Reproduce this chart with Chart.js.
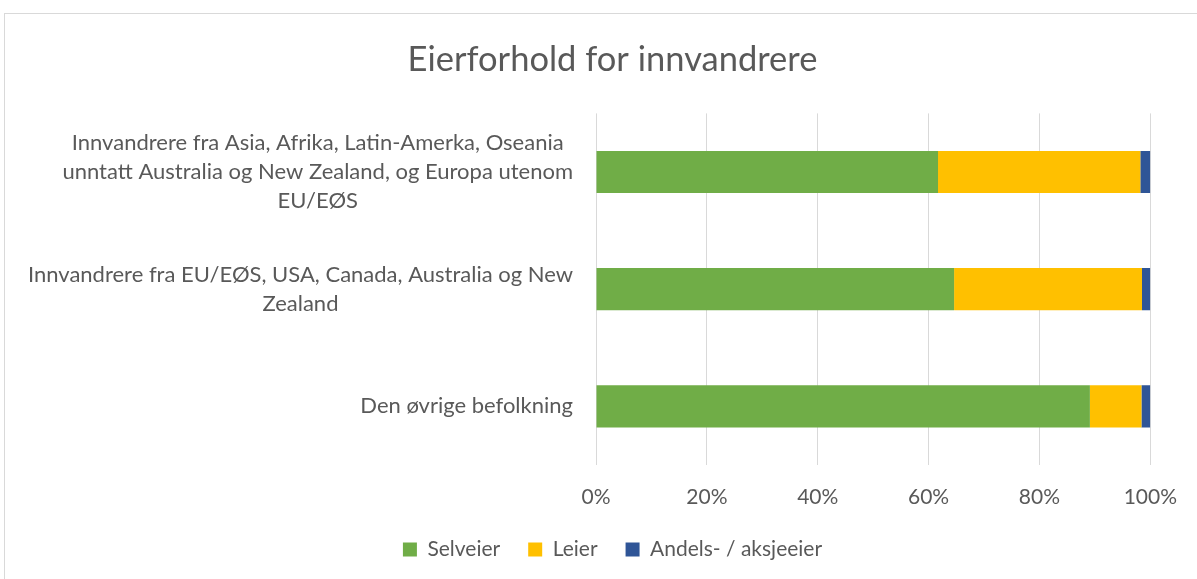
<!DOCTYPE html>
<html lang="no">
<head>
<meta charset="utf-8">
<title>Eierforhold for innvandrere</title>
<script src="https://cdn.jsdelivr.net/npm/chart.js@4"></script>
<style>
  html, body { margin: 0; padding: 0; background: #fff; }
  #wrap { width: 1197px; height: 579px; position: relative; }
</style>
</head>
<body>
<div id="wrap"><canvas id="myChart" width="1197" height="579"></canvas></div>
<script>
// kategorier (hver linje i etiketten som eget element)
const categories = [
    ["Innvandrere fra Asia, Afrika, Latin-Amerka, Oseania", "unntatt Australia og New Zealand, og Europa utenom", "EU/EØS"],
    ["Innvandrere fra EU/EØS, USA, Canada, Australia og New", "Zealand"],
    ["Den øvrige befolkning"]
];
const seriesNames = ["Selveier", "Leier", "Andels- / aksjeeier"];
const selveier = [61.7, 64.6, 89.1];
const leier = [36.5, 33.9, 9.3];
const andeler = [1.8, 1.5, 1.6];
const xTicks = [0, 20, 40, 60, 80, 100];

const FONT = "Lato, 'Noto Sans', sans-serif";
const TEXT = "#595959";

// ramme rundt hele diagrammet
const frame = {
    id: "frame",
    beforeDraw(chart) {
        const c = chart.ctx;
        c.save();
        c.strokeStyle = "#d9d9d9";
        c.lineWidth = 1;
        c.strokeRect(4.5, 13.5, 1300, 700);
        c.restore();
    }
};

// kategorietiketter: linjene sentreres mot hverandre, blokken høyrejusteres
const catLabels = {
    id: "catLabels",
    afterDraw(chart) {
        const c = chart.ctx;
        const yScale = chart.scales.y;
        const right = chart.chartArea.left - 23;
        const lh = 29;
        c.save();
        c.font = "22px " + FONT;
        c.fillStyle = TEXT;
        c.textAlign = "center";
        c.textBaseline = "middle";
        categories.forEach((lines, i) => {
            const yc = yScale.getPixelForTick(i);
            const w = Math.max(...lines.map(l => c.measureText(l).width));
            const xc = right - w / 2;
            lines.forEach((l, j) => {
                c.fillText(l, xc, yc + (j - (lines.length - 1) / 2) * lh);
            });
        });
        c.restore();
    }
};

new Chart(document.getElementById("myChart"), {
    type: "bar",
    data: {
        labels: categories.map(l => l.join(" ")),
        datasets: [
            { label: seriesNames[0], data: selveier, backgroundColor: "#70AD47" },
            { label: seriesNames[1], data: leier, backgroundColor: "#FFC000" },
            { label: seriesNames[2], data: andeler, backgroundColor: "#2F5597" }
        ]
    },
    options: {
        indexAxis: "y",
        responsive: false,
        animation: false,
        devicePixelRatio: 1,
        datasets: {
            bar: { categoryPercentage: 0.72, barPercentage: 0.5 }
        },
        layout: { padding: { top: 39, left: 71, right: 43, bottom: 9 } },
        scales: {
            x: {
                stacked: true,
                min: 0,
                max: 100,
                afterBuildTicks(scale) {
                    scale.ticks = xTicks.map(v => ({ value: v }));
                },
                afterFit(scale) { scale.height = 46; },
                grid: { color: "#d9d9d9", lineWidth: 1, drawTicks: false },
                border: { display: false },
                ticks: {
                    padding: 20,
                    color: TEXT,
                    font: { family: FONT, size: 21 },
                    callback: v => v + "%"
                }
            },
            y: {
                stacked: true,
                afterFit(scale) { scale.width = 525; },
                grid: { display: false },
                border: { display: false },
                ticks: { display: false }
            }
        },
        plugins: {
            title: {
                display: true,
                text: "Eierforhold for innvandrere",
                color: TEXT,
                font: { family: FONT, size: 34.5, weight: "normal" },
                padding: { top: 0, bottom: 33 }
            },
            legend: {
                position: "bottom",
                labels: {
                    color: TEXT,
                    font: { family: FONT, size: 21 },
                    boxWidth: 14,
                    boxHeight: 14,
                    padding: 28
                }
            },
            tooltip: { enabled: false }
        }
    },
    plugins: [frame, catLabels]
});
</script>
</body>
</html>
